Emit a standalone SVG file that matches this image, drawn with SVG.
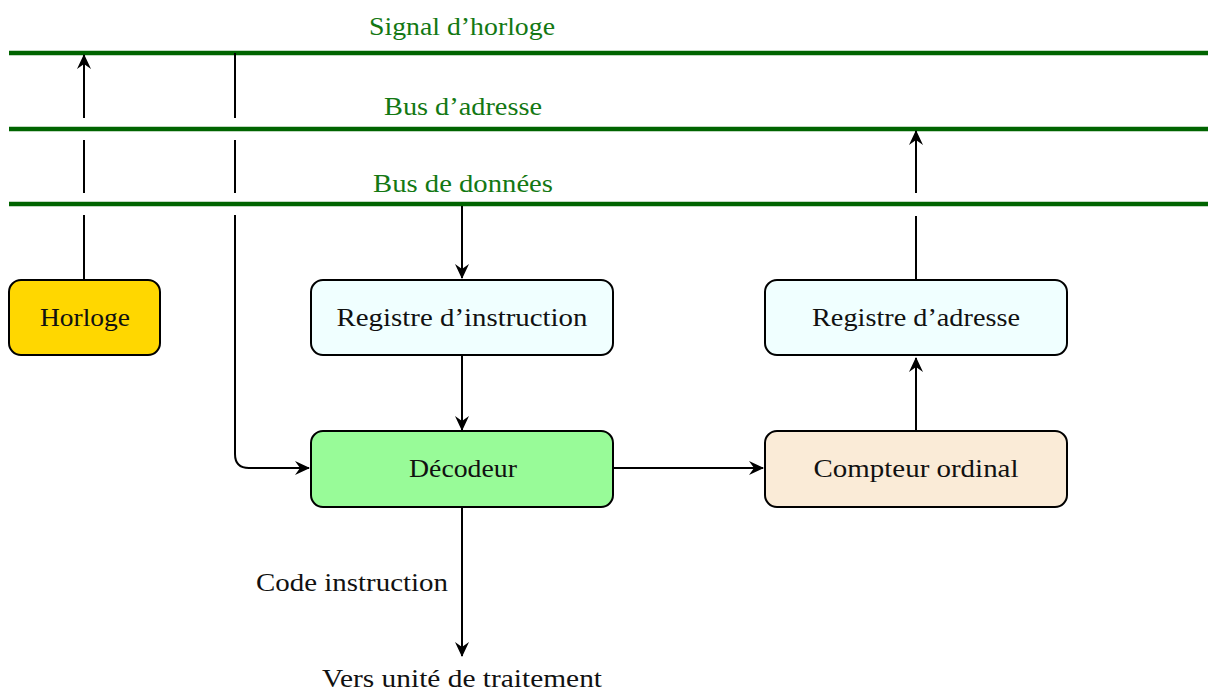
<svg xmlns="http://www.w3.org/2000/svg" width="1208" height="693" viewBox="0 0 1208 693">
<style>
  .bus { stroke: #006400; stroke-width: 4.5; fill: none; }
  .buslabel { font-family: "Liberation Serif", "DejaVu Serif", serif; font-size: 25px; fill: #137813; text-anchor: middle; }
  .box { stroke: #000; stroke-width: 2; rx: 12; ry: 12; }
  .label { font-family: "Liberation Serif", "DejaVu Serif", serif; font-size: 26px; fill: #111; text-anchor: middle; }
  .wire { stroke: #000; stroke-width: 2; fill: none; }
  .arrow { stroke: #000; stroke-width: 2; fill: none; marker-end: url(#head); }
</style>
<defs>
  <marker id="head" markerUnits="userSpaceOnUse" viewBox="-16 -9 18 18" refX="0" refY="0" markerWidth="18" markerHeight="18" orient="auto">
    <path d="M 1 0 L -14 -7 L -9 0 L -14 7 Z" fill="#000"/>
  </marker>
</defs>
<rect width="1208" height="693" fill="#fff"/>

<g id="buses">
  <line class="bus" x1="9" y1="53" x2="1208" y2="53"/>
  <line class="bus" x1="9" y1="129" x2="1208" y2="129"/>
  <line class="bus" x1="9" y1="204" x2="1208" y2="204"/>
  <text class="buslabel" x="462" y="35" textLength="186" lengthAdjust="spacingAndGlyphs">Signal d’horloge</text>
  <text class="buslabel" x="463" y="115" textLength="158" lengthAdjust="spacingAndGlyphs">Bus d’adresse</text>
  <text class="buslabel" x="463" y="192" textLength="180" lengthAdjust="spacingAndGlyphs">Bus de données</text>
</g>

<g id="connectors">
  <!-- Horloge up to clock signal -->
  <line class="wire" x1="84" y1="280" x2="84" y2="215"/>
  <line class="wire" x1="84" y1="193" x2="84" y2="140"/>
  <line class="arrow" x1="84" y1="118" x2="84" y2="55"/>
  <!-- clock signal down to Décodeur -->
  <line class="wire" x1="235" y1="53" x2="235" y2="118"/>
  <line class="wire" x1="235" y1="140" x2="235" y2="193"/>
  <path class="arrow" d="M 235 215 L 235 454 Q 235 468 249 468 L 309 468"/>
  <!-- data bus to RI -->
  <line class="arrow" x1="462" y1="206" x2="462" y2="278"/>
  <!-- RI to Décodeur -->
  <line class="arrow" x1="462" y1="356" x2="462" y2="430"/>
  <!-- Décodeur to Compteur -->
  <line class="arrow" x1="613" y1="468" x2="763" y2="468"/>
  <!-- Compteur to RA -->
  <line class="arrow" x1="916" y1="431" x2="916" y2="358"/>
  <!-- RA to address bus -->
  <line class="wire" x1="916" y1="280" x2="916" y2="216"/>
  <line class="arrow" x1="916" y1="193" x2="916" y2="131"/>
  <!-- Décodeur to processing unit -->
  <line class="arrow" x1="462" y1="507" x2="462" y2="656"/>
  <text class="label" x="448" y="591" style="text-anchor:end" textLength="192" lengthAdjust="spacingAndGlyphs">Code instruction</text>
  <text class="label" x="462" y="687" textLength="280" lengthAdjust="spacingAndGlyphs">Vers unité de traitement</text>
</g>

<g id="horloge">
  <rect class="box" x="9" y="280" width="151" height="75" fill="#FFD700"/>
  <text class="label" x="85" y="326" textLength="90" lengthAdjust="spacingAndGlyphs">Horloge</text>
</g>
<g id="registre-instruction">
  <rect class="box" x="311" y="280" width="302" height="75" fill="#F0FFFF"/>
  <text class="label" x="462" y="326" textLength="251" lengthAdjust="spacingAndGlyphs">Registre d’instruction</text>
</g>
<g id="registre-adresse">
  <rect class="box" x="765" y="280" width="302" height="75" fill="#F0FFFF"/>
  <text class="label" x="916" y="326" textLength="208" lengthAdjust="spacingAndGlyphs">Registre d’adresse</text>
</g>
<g id="decodeur">
  <rect class="box" x="311" y="431" width="302" height="76" fill="#98FB98"/>
  <text class="label" x="463" y="477" textLength="108" lengthAdjust="spacingAndGlyphs">Décodeur</text>
</g>
<g id="compteur-ordinal">
  <rect class="box" x="765" y="431" width="302" height="76" fill="#FAEBD7"/>
  <text class="label" x="916" y="477" textLength="205" lengthAdjust="spacingAndGlyphs">Compteur ordinal</text>
</g>
</svg>
